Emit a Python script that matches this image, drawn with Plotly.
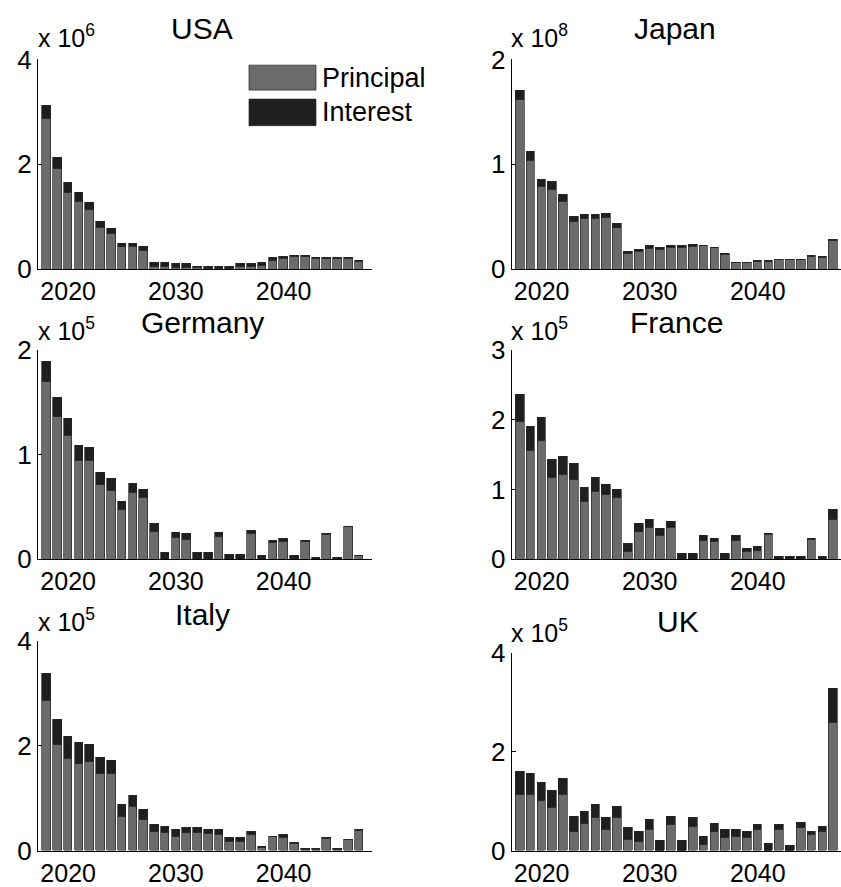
import plotly.graph_objects as go

W, H = 841, 887
years = list(range(2018, 2048))

countries = ["USA", "Japan", "Germany", "France", "Italy", "UK"]
exponents = [6, 8, 5, 5, 5, 5]
ymax = [4, 2, 2, 3, 4, 4]
ytick_vals = [[0, 2, 4], [0, 1, 2], [0, 1, 2], [0, 1, 2, 3], [0, 2, 4], [0, 2, 4]]

# values in units of 10^exponent (total = principal + interest)
usa_total = [3.13, 2.14, 1.65, 1.46, 1.27, 0.91, 0.78, 0.49, 0.49, 0.43,
             0.13, 0.13, 0.10, 0.10, 0.06, 0.06, 0.06, 0.06, 0.10, 0.10,
             0.13, 0.22, 0.25, 0.27, 0.27, 0.23, 0.23, 0.23, 0.23, 0.16]
usa_principal = [2.88, 1.92, 1.46, 1.30, 1.14, 0.79, 0.69, 0.43, 0.43, 0.36,
                 0.06, 0.06, 0.04, 0.04, 0.03, 0.02, 0.02, 0.02, 0.06, 0.06,
                 0.08, 0.17, 0.20, 0.24, 0.24, 0.21, 0.21, 0.21, 0.21, 0.15]

japan_total = [1.70, 1.12, 0.86, 0.84, 0.71, 0.50, 0.52, 0.52, 0.53, 0.44,
               0.17, 0.19, 0.23, 0.21, 0.23, 0.23, 0.24, 0.23, 0.21, 0.15,
               0.063, 0.063, 0.08, 0.08, 0.095, 0.095, 0.095, 0.13, 0.12, 0.28]
japan_principal = [1.62, 1.04, 0.79, 0.76, 0.65, 0.46, 0.48, 0.48, 0.49, 0.40,
                   0.15, 0.17, 0.20, 0.19, 0.21, 0.21, 0.22, 0.225, 0.205, 0.145,
                   0.06, 0.06, 0.077, 0.077, 0.09, 0.09, 0.09, 0.125, 0.115, 0.27]

germany_total = [1.89, 1.55, 1.35, 1.09, 1.07, 0.83, 0.77, 0.555, 0.73, 0.67,
                 0.34, 0.064, 0.26, 0.245, 0.064, 0.064, 0.26, 0.048, 0.048, 0.28,
                 0.032, 0.18, 0.20, 0.032, 0.18, 0.016, 0.245, 0.016, 0.315, 0.032]
germany_principal = [1.70, 1.37, 1.19, 0.95, 0.95, 0.72, 0.66, 0.48, 0.64, 0.59,
                     0.27, 0.0, 0.21, 0.19, 0.0, 0.0, 0.22, 0.0, 0.0, 0.25,
                     0.0, 0.156, 0.17, 0.0, 0.17, 0.0, 0.24, 0.0, 0.31, 0.032]

france_total = [2.37, 1.91, 2.03, 1.44, 1.47, 1.37, 1.03, 1.17, 1.08, 1.00,
                0.225, 0.51, 0.57, 0.44, 0.545, 0.08, 0.08, 0.345, 0.30, 0.08,
                0.345, 0.15, 0.18, 0.37, 0.033, 0.033, 0.033, 0.30, 0.033, 0.71]
france_principal = [1.98, 1.56, 1.71, 1.17, 1.22, 1.15, 0.83, 0.98, 0.93, 0.885,
                    0.105, 0.40, 0.45, 0.345, 0.45, 0.0, 0.0, 0.27, 0.25, 0.0,
                    0.27, 0.115, 0.13, 0.36, 0.0, 0.0, 0.0, 0.29, 0.0, 0.57]

italy_total = [3.37, 2.49, 2.17, 2.05, 2.02, 1.78, 1.72, 0.875, 1.05, 0.78,
               0.49, 0.46, 0.40, 0.43, 0.43, 0.40, 0.40, 0.24, 0.24, 0.37,
               0.08, 0.27, 0.30, 0.145, 0.03, 0.03, 0.24, 0.03, 0.21, 0.40]
italy_principal = [2.86, 2.02, 1.75, 1.65, 1.69, 1.46, 1.46, 0.65, 0.84, 0.59,
                   0.37, 0.34, 0.27, 0.34, 0.34, 0.32, 0.30, 0.18, 0.18, 0.30,
                   0.05, 0.26, 0.24, 0.13, 0.025, 0.025, 0.235, 0.025, 0.205, 0.38]

uk_total = [1.59, 1.55, 1.38, 1.21, 1.45, 0.69, 0.79, 0.93, 0.66, 0.89,
            0.46, 0.38, 0.63, 0.21, 0.69, 0.21, 0.66, 0.28, 0.54, 0.42,
            0.42, 0.38, 0.52, 0.14, 0.52, 0.11, 0.56, 0.38, 0.49, 3.28]
uk_principal = [1.14, 1.14, 1.01, 0.87, 1.14, 0.39, 0.54, 0.67, 0.42, 0.67,
                0.22, 0.19, 0.42, 0.0, 0.52, 0.0, 0.49, 0.12, 0.39, 0.26,
                0.29, 0.26, 0.42, 0.0, 0.42, 0.0, 0.46, 0.32, 0.39, 2.59]

totals = [usa_total, japan_total, germany_total, france_total, italy_total, uk_total]
principals = [usa_principal, japan_principal, germany_principal, france_principal,
              italy_principal, uk_principal]

# ---- layout geometry (target pixels in the picture) ----
Y_OFF, Y_SCALE = 17.5, 0.964   # observed mapping of figure rows onto the picture


def py(y_px):
    """paper y for a target picture row"""
    return 1 - ((y_px - Y_OFF) / Y_SCALE) / H


left_col = (38, 372)
right_col = (511.7, 841)
rows_px = [(62, 272), (62, 272), (353.3, 562.3), (353.3, 562.3), (644, 854.3), (656, 854.3)]
cols_px = [left_col, right_col, left_col, right_col, left_col, right_col]
xranges = [[2017.2, 2048.2], [2017.23, 2047.7]] * 3
title_pos = [(202, 31), (675, 31), (202, 325), (676, 325), (202, 618), (678, 625)]
exp_pos = [(36, 39), (509, 39), (36, 332), (509, 332), (36, 623), (509, 634)]

PRINC = "#6b6b6b"
INTER = "#1f1f1f"
EDGE = "#262626"
FONT = "Liberation Sans, Arial, sans-serif"

fig = go.Figure()
annotations = []
shapes = []
for i, name in enumerate(countries):
    sfx = "" if i == 0 else str(i + 1)
    interest = [round(t - p, 4) for t, p in zip(totals[i], principals[i])]
    fig.add_trace(go.Bar(x=years, y=principals[i], name="Principal",
                         marker=dict(color=PRINC, line=dict(color=EDGE, width=0.7)),
                         width=0.8, xaxis="x" + sfx, yaxis="y" + sfx, showlegend=False))
    fig.add_trace(go.Bar(x=years, y=interest, name="Interest",
                         marker=dict(color=INTER, line=dict(color=EDGE, width=0.7)),
                         width=0.8, xaxis="x" + sfx, yaxis="y" + sfx, showlegend=False))
    x0, x1 = cols_px[i]
    y0, y1 = rows_px[i]
    fig.update_layout(**{
        "xaxis" + sfx: dict(domain=[x0 / W, x1 / W], range=xranges[i], anchor="y" + sfx,
                            tickvals=[2020, 2030, 2040], showline=True, linecolor="black",
                            linewidth=1, ticks="", showgrid=False, zeroline=False,
                            tickfont=dict(size=25, color="black", family=FONT)),
        "yaxis" + sfx: dict(domain=[max(0, py(y1)), min(1, py(y0))], range=[0, ymax[i]],
                            anchor="x" + sfx, tickvals=ytick_vals[i], showline=True,
                            linecolor="black", linewidth=1, ticks="inside", ticklen=4,
                            tickcolor="black", showgrid=False, zeroline=False,
                            tickfont=dict(size=26, color="black", family=FONT)),
    })
    tx, ty = title_pos[i]
    annotations.append(dict(text=name, x=tx / W, y=py(ty), xref="paper", yref="paper",
                            xanchor="center", yanchor="middle", showarrow=False,
                            font=dict(size=30, color="black", family=FONT)))
    ex, ey = exp_pos[i]
    annotations.append(dict(text="x 10<sup>%d</sup>" % exponents[i], x=ex / W, y=py(ey),
                            xref="paper", yref="paper", xanchor="left", yanchor="middle",
                            showarrow=False, font=dict(size=25, color="black", family=FONT)))

# legend (USA panel)
legend_items = [("Principal", PRINC, 67.7, 92.7), ("Interest", INTER, 101.7, 128.3)]
for label, col, ya, yb in legend_items:
    shapes.append(dict(type="rect", xref="paper", yref="paper", x0=249 / W, x1=316 / W,
                       y0=py(yb), y1=py(ya), fillcolor=col,
                       line=dict(color=EDGE, width=0.7)))
    annotations.append(dict(text=label, x=320 / W, y=py((ya + yb) / 2), xref="paper",
                            yref="paper", xanchor="left", yanchor="middle", showarrow=False,
                            font=dict(size=27, color="black", family=FONT)))

fig.update_layout(width=W, height=H, barmode="stack", bargap=0,
                  margin=dict(l=0, r=0, t=0, b=0), paper_bgcolor="white",
                  plot_bgcolor="white", annotations=annotations, shapes=shapes,
                  font=dict(family=FONT, color="black"), showlegend=False)

fig.write_html("out.html")
